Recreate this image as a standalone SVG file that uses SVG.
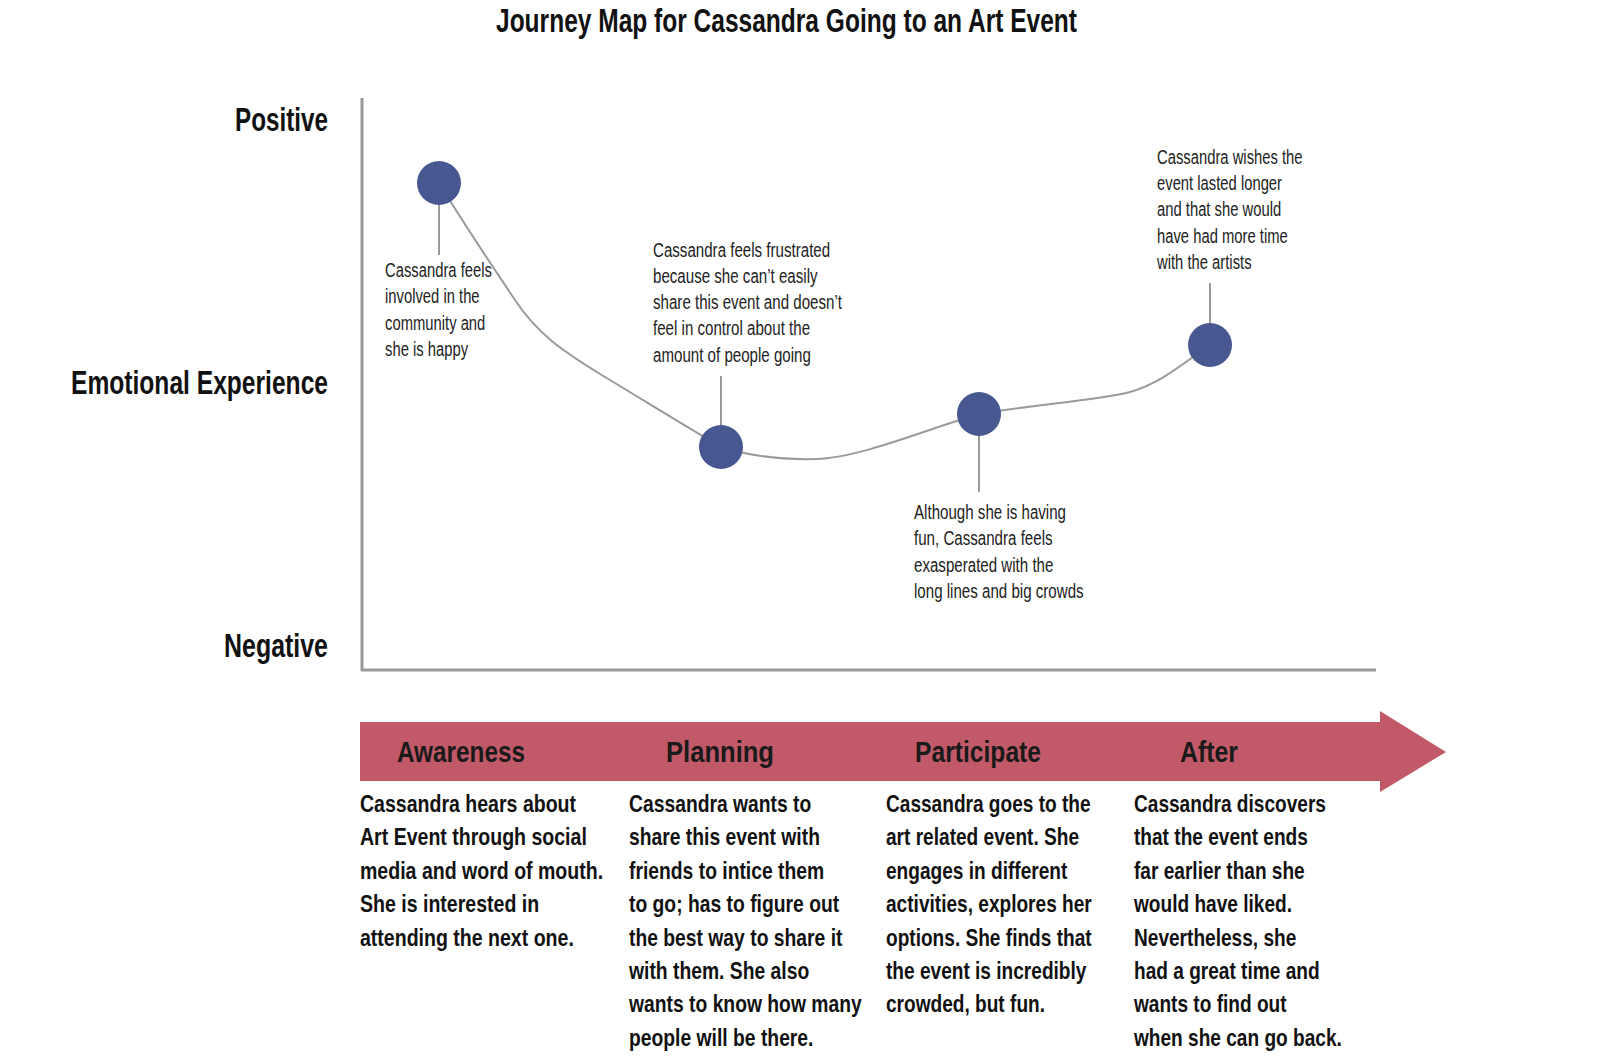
<svg xmlns="http://www.w3.org/2000/svg" width="1619" height="1063" viewBox="0 0 1619 1063">
<style>
.bg{fill:#ffffff}
.axis{stroke:#9a9a9a;stroke-width:3;fill:none}
.curve{stroke:#9a9a9a;stroke-width:2;fill:none}
.stem{stroke:#9a9a9a;stroke-width:2}
.dot{fill:#47578f}
.band{fill:#c15968}
.title{font-family:"Liberation Sans",Arial,sans-serif;font-weight:bold;font-size:33px;fill:#111}
.ylab{font-family:"Liberation Sans",Arial,sans-serif;font-weight:bold;font-size:33px;fill:#111}
.stage{font-family:"Liberation Sans",Arial,sans-serif;font-weight:bold;font-size:30px;fill:#1a1a1a}
.note{font-family:"Liberation Sans",Arial,sans-serif;font-size:21px;fill:#222}
.desc{font-family:"Liberation Sans",Arial,sans-serif;font-weight:bold;font-size:23px;fill:#111}
</style>
<rect class="bg" x="0" y="0" width="1619" height="1063"/>
<text class="title" x="496" y="32" textLength="581" lengthAdjust="spacingAndGlyphs">Journey Map for Cassandra Going to an Art Event</text>
<g id="axes">
<line class="axis" x1="362" y1="98" x2="362" y2="671"/>
<line class="axis" x1="361" y1="670" x2="1376" y2="670"/>
<text class="ylab" x="235" y="131" textLength="93" lengthAdjust="spacingAndGlyphs">Positive</text>
<text class="ylab" x="71" y="394" textLength="257" lengthAdjust="spacingAndGlyphs">Emotional Experience</text>
<text class="ylab" x="224" y="657" textLength="104" lengthAdjust="spacingAndGlyphs">Negative</text>
</g>
<g id="connectors">
<path class="curve" d="M441,186 C467,229 495,270 515,300 C540,338 570,355 600,374 C640,398 680,423 721,447 C750,456 780,460 816,459 C860,458 930,428 979,414 C1030,405 1100,400 1130,392 C1160,384 1185,362 1210,345"/>
</g>
<g id="node-awareness">
<line class="stem" x1="439" y1="200" x2="439" y2="255"/>
<circle class="dot" cx="439" cy="183" r="22"/>
<text class="note" transform="translate(385,277) scale(0.705,1)"><tspan x="0" dy="0">Cassandra feels</tspan><tspan x="0" dy="26.3">involved in the</tspan><tspan x="0" dy="26.3">community and</tspan><tspan x="0" dy="26.3">she is happy</tspan></text>
</g>
<g id="node-planning">
<line class="stem" x1="721" y1="376" x2="721" y2="430"/>
<circle class="dot" cx="721" cy="447" r="22"/>
<text class="note" transform="translate(653,256.5) scale(0.72,1)"><tspan x="0" dy="0">Cassandra feels frustrated</tspan><tspan x="0" dy="26.3">because she can’t easily</tspan><tspan x="0" dy="26.3">share this event and doesn’t</tspan><tspan x="0" dy="26.3">feel in control about the</tspan><tspan x="0" dy="26.3">amount of people going</tspan></text>
</g>
<g id="node-participate">
<line class="stem" x1="979" y1="430" x2="979" y2="492"/>
<circle class="dot" cx="979" cy="414" r="22"/>
<text class="note" transform="translate(914,518.5) scale(0.72,1)"><tspan x="0" dy="0">Although she is having</tspan><tspan x="0" dy="26.6">fun, Cassandra feels</tspan><tspan x="0" dy="26.6">exasperated with the</tspan><tspan x="0" dy="26.6">long lines and big crowds</tspan></text>
</g>
<g id="node-after">
<line class="stem" x1="1210" y1="283" x2="1210" y2="330"/>
<circle class="dot" cx="1210" cy="345" r="22"/>
<text class="note" transform="translate(1157,163.5) scale(0.705,1)"><tspan x="0" dy="0">Cassandra wishes the</tspan><tspan x="0" dy="26.5">event lasted longer</tspan><tspan x="0" dy="26.5">and that she would</tspan><tspan x="0" dy="26.5">have had more time</tspan><tspan x="0" dy="26.5">with the artists</tspan></text>
</g>
<g id="stage-band">
<path class="band" d="M360,722 L1380,722 L1380,711 L1446,752 L1380,792 L1380,781 L360,781 Z"/>
<text class="stage" x="397" y="762" textLength="128" lengthAdjust="spacingAndGlyphs">Awareness</text>
<text class="stage" x="666" y="762" textLength="108" lengthAdjust="spacingAndGlyphs">Planning</text>
<text class="stage" x="915" y="762" textLength="126" lengthAdjust="spacingAndGlyphs">Participate</text>
<text class="stage" x="1180" y="762" textLength="58" lengthAdjust="spacingAndGlyphs">After</text>
</g>
<g id="desc-awareness">
<text class="desc" transform="translate(360,812) scale(0.85,1)"><tspan x="0" dy="0">Cassandra hears about</tspan><tspan x="0" dy="33.4">Art Event through social</tspan><tspan x="0" dy="33.4">media and word of mouth.</tspan><tspan x="0" dy="33.4">She is interested in</tspan><tspan x="0" dy="33.4">attending the next one.</tspan></text>
</g>
<g id="desc-planning">
<text class="desc" transform="translate(629,812) scale(0.84,1)"><tspan x="0" dy="0">Cassandra wants to</tspan><tspan x="0" dy="33.4">share this event with</tspan><tspan x="0" dy="33.4">friends to intice them</tspan><tspan x="0" dy="33.4">to go; has to figure out</tspan><tspan x="0" dy="33.4">the best way to share it</tspan><tspan x="0" dy="33.4">with them. She also</tspan><tspan x="0" dy="33.4">wants to know how many</tspan><tspan x="0" dy="33.4">people will be there.</tspan></text>
</g>
<g id="desc-participate">
<text class="desc" transform="translate(886,812) scale(0.83,1)"><tspan x="0" dy="0">Cassandra goes to the</tspan><tspan x="0" dy="33.4">art related event. She</tspan><tspan x="0" dy="33.4">engages in different</tspan><tspan x="0" dy="33.4">activities, explores her</tspan><tspan x="0" dy="33.4">options. She finds that</tspan><tspan x="0" dy="33.4">the event is incredibly</tspan><tspan x="0" dy="33.4">crowded, but fun.</tspan></text>
</g>
<g id="desc-after">
<text class="desc" transform="translate(1134,812) scale(0.83,1)"><tspan x="0" dy="0">Cassandra discovers</tspan><tspan x="0" dy="33.4">that the event ends</tspan><tspan x="0" dy="33.4">far earlier than she</tspan><tspan x="0" dy="33.4">would have liked.</tspan><tspan x="0" dy="33.4">Nevertheless, she</tspan><tspan x="0" dy="33.4">had a great time and</tspan><tspan x="0" dy="33.4">wants to find out</tspan><tspan x="0" dy="33.4">when she can go back.</tspan></text>
</g>
</svg>
